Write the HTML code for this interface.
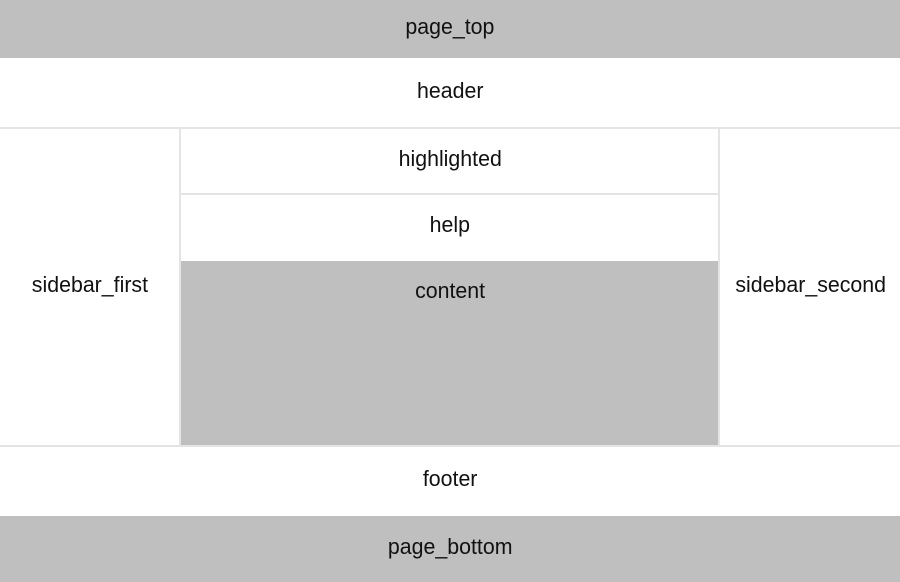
<!DOCTYPE html>
<html><head><style>
body{margin:0;width:900px;height:582px;background:#fff;position:relative;overflow:hidden;font-family:"Liberation Sans",sans-serif;font-size:22px;color:#111}
.b{position:absolute;box-sizing:border-box;display:flex;justify-content:center;align-items:center}
.b span{display:inline-block;transform:scaleX(0.97)}
.g{background:#bfbfbf}
.l{position:absolute;background:#e4e4e4}
</style></head><body>
<div class="b g" style="left:0;top:0;width:900px;height:58px;padding-bottom:5px"><span>page_top</span></div>
<div class="b" style="left:0;top:58px;width:900px;height:70px;padding-bottom:5px"><span>header</span></div>
<div class="l" style="left:0;top:127px;width:900px;height:2px"></div>
<div class="b" style="left:0;top:129px;width:180px;height:317px;padding-bottom:6px"><span>sidebar_first</span></div>
<div class="l" style="left:179px;top:129px;width:2px;height:317px"></div>
<div class="b" style="left:181px;top:129px;width:538px;height:65px;padding-bottom:6px"><span>highlighted</span></div>
<div class="l" style="left:181px;top:193px;width:538px;height:2px"></div>
<div class="b" style="left:181px;top:195px;width:538px;height:66px;padding-bottom:6px"><span>help</span></div>
<div class="b g" style="left:181px;top:261px;width:538px;height:185px;align-items:flex-start;padding-top:17px"><span>content</span></div>
<div class="l" style="left:718px;top:129px;width:2px;height:317px"></div>
<div class="b" style="left:720px;top:129px;width:180px;height:317px;padding-bottom:6px;padding-left:2px"><span>sidebar_second</span></div>
<div class="l" style="left:0;top:445px;width:900px;height:2px"></div>
<div class="b" style="left:0;top:447px;width:900px;height:69px;padding-bottom:6px"><span>footer</span></div>
<div class="b g" style="left:0;top:516px;width:900px;height:66px;padding-bottom:4px"><span>page_bottom</span></div>
</body></html>
